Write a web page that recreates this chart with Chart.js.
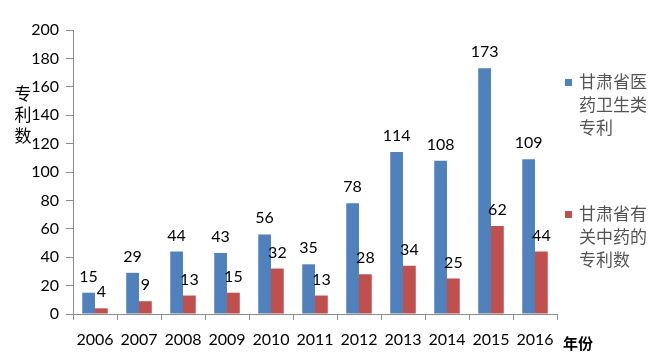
<!DOCTYPE html>
<html>
<head>
<meta charset="utf-8">
<script src="https://cdn.jsdelivr.net/npm/chart.js@4.4.0/dist/chart.umd.min.js"></script>
<style>
  html, body { margin: 0; padding: 0; background: #ffffff; }
  #wrap { width: 671px; height: 358px; position: relative; }
</style>
</head>
<body>
<div id="wrap"><canvas id="chart" width="671" height="358"></canvas></div>
<script>
// data
const years = ['2006', '2007', '2008', '2009', '2010', '2011', '2012', '2013', '2014', '2015', '2016'];
const medicalPatents = [15, 29, 44, 43, 56, 35, 78, 114, 108, 173, 109];
const tcmPatents = [4, 9, 13, 15, 32, 13, 28, 34, 25, 62, 44];
const seriesNames = [['甘肃省医', '药卫生类', '专利'], ['甘肃省有', '关中药的', '专利数']];
const yTitle = ['专', '利', '数'];
const xTitle = '年份';

const colors = ['#4F81BD', '#C0504D'];
const axisColor = '#8c8c8c';
const numFont = '16px Lato, "Liberation Sans", sans-serif';
const cjkFont = '"Noto Sans CJK SC", sans-serif';

// value labels above each bar, axis titles and the side legend
const extras = {
    id: 'extras',
    afterDatasetsDraw(chart) {
        const ctx = chart.ctx;
        ctx.save();
        ctx.font = numFont;
        ctx.fillStyle = '#000000';
        ctx.textAlign = 'center';
        ctx.textBaseline = 'alphabetic';
        chart.data.datasets.forEach((ds, i) => {
            chart.getDatasetMeta(i).data.forEach((bar, j) => {
                ctx.fillText(String(ds.data[j]), bar.x, bar.y - 11);
            });
        });

        // y title, stacked characters
        ctx.font = '17px ' + cjkFont;
        ctx.fillStyle = '#000000';
        ctx.textBaseline = 'middle';
        yTitle.forEach((ch, k) => ctx.fillText(ch, 23, 94 + k * 21));

        // x title
        ctx.font = 'bold 15px ' + cjkFont;
        ctx.textAlign = 'left';
        ctx.fillText(xTitle, 563, 343);

        // legend
        const legendY = [82, 214];
        ctx.font = '17px ' + cjkFont;
        seriesNames.forEach((lines, i) => {
            ctx.fillStyle = colors[i];
            ctx.fillRect(565, legendY[i] - 3, 7, 7);
            ctx.fillStyle = '#555555';
            lines.forEach((t, k) => ctx.fillText(t, 579, legendY[i] + k * 23));
        });
        ctx.restore();
    }
};

new Chart(document.getElementById('chart').getContext('2d'), {
    type: 'bar',
    data: {
        labels: years,
        datasets: [{
            label: seriesNames[0].join(''),
            data: medicalPatents,
            backgroundColor: colors[0],
            categoryPercentage: 0.58,
            barPercentage: 1.0
        }, {
            label: seriesNames[1].join(''),
            data: tcmPatents,
            backgroundColor: colors[1],
            categoryPercentage: 0.58,
            barPercentage: 1.0
        }]
    },
    options: {
        responsive: false,
        animation: false,
        layout: { padding: { left: 0, right: 114, top: 30, bottom: 0 } },
        plugins: {
            legend: { display: false },
            tooltip: { enabled: false }
        },
        scales: {
            x: {
                afterFit: scale => { scale.height = 44; },
                grid: {
                    offset: true,
                    drawOnChartArea: false,
                    drawTicks: true,
                    tickLength: 6,
                    color: axisColor
                },
                border: { color: axisColor },
                ticks: { color: '#000000', font: { family: 'Lato', size: 16 }, padding: 10 }
            },
            y: {
                min: 0,
                max: 200,
                afterFit: scale => { scale.width = 73; },
                grid: {
                    drawOnChartArea: false,
                    drawTicks: true,
                    tickLength: 7,
                    color: axisColor
                },
                border: { color: axisColor },
                ticks: { stepSize: 20, color: '#000000', font: { family: 'Lato', size: 16 }, padding: 7 }
            }
        }
    },
    plugins: [extras]
});
</script>
</body>
</html>
